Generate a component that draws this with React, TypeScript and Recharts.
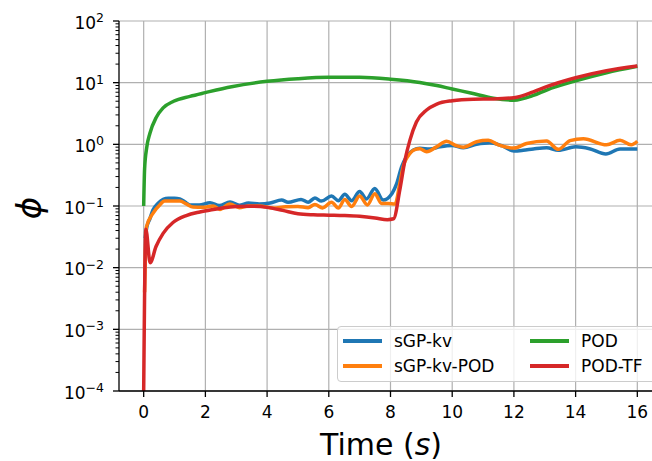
import { LineChart, Line, XAxis, YAxis, CartesianGrid, Legend } from 'recharts';

// time (s) and phi values, one pair of arrays per method
const T_KV = [0.05, 0.1, 0.2, 0.3, 0.46, 0.63, 0.8, 1.0, 1.17, 1.33, 1.5, 1.8, 2.15, 2.45, 2.8, 3.1, 3.4, 3.75, 4.1, 4.47, 4.68, 5.1, 5.33, 5.55, 5.76, 6.09, 6.31, 6.52, 6.74, 7.0, 7.22, 7.49, 7.76, 8.05, 8.2, 8.36, 8.52, 8.74, 8.95, 9.28, 9.6, 10.0, 10.36, 10.79, 11.22, 11.6, 12.0, 12.3, 12.63, 13.06, 13.44, 14.0, 14.45, 14.98, 15.44, 16.0];
const PHI_KV = [0.03, 0.045, 0.062, 0.086, 0.11, 0.128, 0.133, 0.133, 0.13, 0.117, 0.104, 0.104, 0.113, 0.102, 0.116, 0.103, 0.112, 0.108, 0.112, 0.125, 0.115, 0.128, 0.115, 0.135, 0.12, 0.145, 0.122, 0.155, 0.122, 0.172, 0.13, 0.192, 0.125, 0.16, 0.23, 0.43, 0.63, 0.81, 0.86, 0.84, 0.91, 0.96, 0.88, 1.0, 1.06, 0.95, 0.78, 0.8, 0.84, 0.88, 0.8, 0.91, 0.85, 0.7, 0.84, 0.84];

const T_KVPOD = [0.03, 0.09, 0.3, 0.52, 0.68, 1.17, 1.38, 1.6, 1.92, 2.25, 2.47, 2.79, 3.1, 3.4, 3.76, 4.2, 4.6, 5.0, 5.33, 5.55, 5.8, 6.09, 6.31, 6.52, 6.74, 7.0, 7.25, 7.49, 7.71, 7.92, 8.15, 8.3, 8.41, 8.63, 8.76, 8.95, 9.17, 9.49, 9.82, 10.14, 10.36, 10.79, 11.17, 11.5, 12.0, 12.41, 13.06, 13.44, 13.82, 14.25, 15.0, 15.44, 15.8, 16.0];
const PHI_KVPOD = [0.004, 0.046, 0.076, 0.104, 0.12, 0.12, 0.108, 0.096, 0.095, 0.1, 0.088, 0.108, 0.094, 0.1, 0.1, 0.093, 0.097, 0.098, 0.094, 0.106, 0.093, 0.115, 0.093, 0.128, 0.098, 0.145, 0.104, 0.158, 0.11, 0.11, 0.108, 0.23, 0.43, 0.71, 0.81, 0.85, 0.76, 0.91, 1.12, 0.95, 0.9, 1.1, 1.16, 0.98, 0.87, 1.03, 1.13, 0.83, 1.15, 1.23, 0.98, 1.16, 0.98, 1.12];

const T_POD = [0, 0.03, 0.1, 0.2, 0.41, 0.63, 0.97, 1.5, 2.0, 2.85, 4.0, 5.0, 6.0, 7.0, 8.0, 8.95, 9.5, 10.0, 10.6, 11.33, 12.0, 12.63, 13.06, 14.0, 15.0, 16.0];
const PHI_POD = [0.1, 0.4, 0.9, 1.5, 2.75, 3.9, 5.0, 6.0, 6.9, 8.6, 10.5, 11.6, 12.2, 12.2, 11.4, 10.1, 9.0, 7.9, 6.8, 5.6, 5.2, 6.2, 7.6, 10.7, 14.5, 18.4];

const T_PODTF = [0, 0.07, 0.21, 0.4, 0.63, 0.95, 1.38, 1.82, 2.2, 2.5, 3.0, 3.5, 4.0, 4.5, 5.0, 5.5, 6.0, 6.5, 7.0, 7.5, 7.9, 8.1, 8.3, 8.47, 8.63, 8.84, 9.17, 9.5, 10.0, 10.68, 11.33, 12.0, 12.63, 13.06, 14.0, 15.0, 16.0];
const PHI_PODTF = [1e-4, 0.042, 0.012, 0.022, 0.036, 0.054, 0.07, 0.08, 0.087, 0.092, 0.098, 0.099, 0.095, 0.085, 0.075, 0.072, 0.071, 0.07, 0.068, 0.064, 0.06, 0.062, 0.18, 0.56, 1.17, 2.3, 3.6, 4.5, 5.1, 5.4, 5.45, 5.7, 7.1, 8.6, 12.0, 15.6, 18.6];

const X_TICKS = [0, 2, 4, 6, 8, 10, 12, 14, 16];
const Y_MAJOR = [1e-4, 1e-3, 1e-2, 1e-1, 1, 10, 100];
const Y_EXP = ['−4', '−3', '−2', '−1', '0', '1', '2'];
const Y_MINOR = Y_MAJOR.slice(0, -1).flatMap((d) => [2, 3, 4, 5, 6, 7, 8, 9].map((k) => k * d));

const FONT = '"DejaVu Sans", sans-serif';

const SERIES = [
  { name: 'sGP-kv', color: '#1f77b4', t: T_KV, v: PHI_KV },
  { name: 'sGP-kv-POD', color: '#ff7f0e', t: T_KVPOD, v: PHI_KVPOD },
  { name: 'POD', color: '#2ca02c', t: T_POD, v: PHI_POD },
  { name: 'POD-TF', color: '#d62728', t: T_PODTF, v: PHI_PODTF },
];

const toPoints = (t: number[], v: number[]) => t.map((x, i) => ({ t: x, phi: v[i] }));

const TICK = 6;

function YTick(props: any) {
  const { x, y, payload } = props;
  const ax = x + TICK;
  const i = Y_MAJOR.indexOf(payload.value);
  if (i < 0) {
    return <line x1={ax - 3.5} x2={ax} y1={y} y2={y} stroke="#000" strokeWidth={1} />;
  }
  return (
    <g>
      <line x1={ax - TICK} x2={ax} y1={y} y2={y} stroke="#000" strokeWidth={1.3} />
      <text x={ax - 15} y={y + 7.8} textAnchor="end" fontSize={17} fill="#000" fontFamily={FONT}>
        10<tspan dy={-6.8} fontSize={12.5}>{Y_EXP[i]}</tspan>
      </text>
    </g>
  );
}

function XLabel(props: any) {
  const { viewBox } = props;
  return (
    <text x={381} y={viewBox.y + 64} textAnchor="middle" fontSize={30} fill="#000" fontFamily={FONT}>
      Time (<tspan fontStyle="italic">s</tspan>)
    </text>
  );
}

function YLabel(props: any) {
  const { viewBox } = props;
  const cy = viewBox.y + viewBox.height / 2 + 2;
  return (
    <text
      x={41}
      y={cy}
      transform={`rotate(-90, 41, ${cy})`}
      textAnchor="middle"
      fontSize={34}
      fontStyle="italic"
      fill="#000"
      fontFamily={FONT}
    >
      ϕ
    </text>
  );
}

function LegendBox() {
  const row = (s: (typeof SERIES)[number], left: number, top: number) => (
    <div key={s.name} style={{ position: 'absolute', left, top: top - 10, height: 20, display: 'flex', alignItems: 'center' }}>
      <div style={{ width: 39, height: 4, background: s.color }} />
      <span style={{ marginLeft: 12, fontSize: 17, lineHeight: '20px', color: '#000', fontFamily: FONT, whiteSpace: 'nowrap' }}>
        {s.name}
      </span>
    </div>
  );
  return (
    <div
      style={{
        position: 'relative',
        width: 322,
        height: 56,
        boxSizing: 'border-box',
        border: '1px solid #cccccc',
        borderRadius: 4,
        background: 'rgba(255,255,255,0.8)',
      }}
    >
      {row(SERIES[0], 5, 14)}
      {row(SERIES[1], 5, 38.5)}
      {row(SERIES[2], 192, 14)}
      {row(SERIES[3], 192, 38.5)}
    </div>
  );
}

export default function App() {
  return (
    <div style={{ position: 'absolute', left: 0, top: 0, width: 652, height: 461, overflow: 'hidden', background: '#fff' }}>
      <LineChart width={680} height={461} margin={{ top: 21, right: 18, bottom: 0, left: 0 }} style={{ fontFamily: FONT }}>
        <CartesianGrid stroke="#b0b0b0" strokeWidth={1.2} horizontalValues={Y_MAJOR} verticalValues={X_TICKS} />
        <XAxis
          dataKey="t"
          type="number"
          domain={[-0.8, 16.8]}
          allowDataOverflow
          ticks={X_TICKS}
          interval={0}
          height={70}
          tickSize={TICK}
          tickMargin={9}
          axisLine={{ stroke: '#000', strokeWidth: 1.3 }}
          tickLine={{ stroke: '#000', strokeWidth: 1.3 }}
          tick={{ fontSize: 17, fill: '#000', fontFamily: FONT }}
          label={<XLabel />}
        />
        <XAxis
          xAxisId="top"
          orientation="top"
          type="number"
          domain={[-0.8, 16.8]}
          height={0}
          tick={false}
          tickLine={false}
          axisLine={{ stroke: '#000', strokeWidth: 1.3 }}
        />
        <YAxis
          type="number"
          scale="log"
          domain={[1e-4, 100]}
          allowDataOverflow
          ticks={[...Y_MAJOR, ...Y_MINOR]}
          interval={0}
          width={119}
          tickSize={TICK}
          tickMargin={0}
          tickLine={false}
          axisLine={{ stroke: '#000', strokeWidth: 1.3 }}
          tick={<YTick />}
          label={<YLabel />}
        />
        {SERIES.map((s) => (
          <Line
            key={s.name}
            data={toPoints(s.t, s.v)}
            dataKey="phi"
            name={s.name}
            type="monotone"
            stroke={s.color}
            strokeWidth={3.5}
            dot={false}
            activeDot={false}
            isAnimationActive={false}
          />
        ))}
        <Legend
          layout="horizontal"
          verticalAlign="middle"
          align="center"
          wrapperStyle={{ position: 'absolute', left: 337, top: 326, width: 322, height: 56 }}
          content={() => <LegendBox />}
        />
      </LineChart>
    </div>
  );
}
